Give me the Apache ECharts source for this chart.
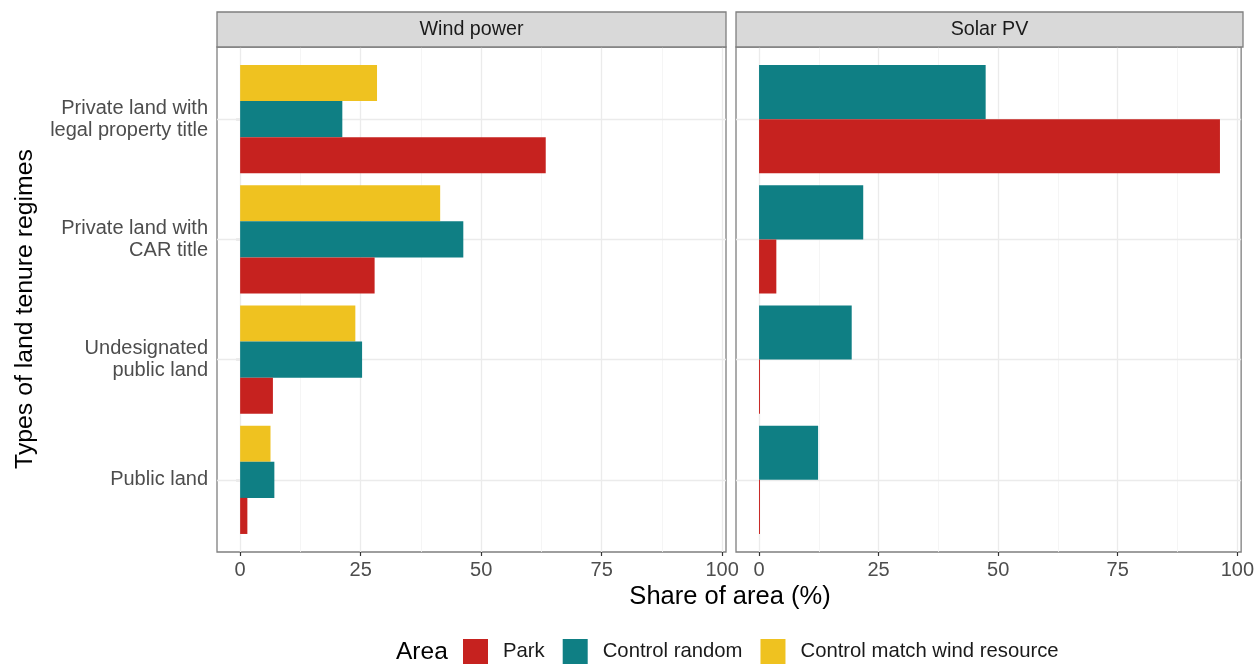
<!DOCTYPE html>
<html>
<head>
<meta charset="utf-8">
<script src="https://cdn.jsdelivr.net/npm/echarts@6/dist/echarts.min.js"></script>
<style>
  html, body { margin: 0; padding: 0; background: #ffffff; }
  #chart { width: 1257px; height: 664px; }
</style>
</head>
<body>
<div id="chart"></div>
<script>
// Land tenure categories (top to bottom)
const categories = [
  'Private land with\nlegal property title',
  'Private land with\nCAR title',
  'Undesignated\npublic land',
  'Public land'
];

// Share of area (%) — wind power parks and their controls
const windPark   = [63.4, 27.9, 6.8, 1.5];
const windRandom = [21.2, 46.3, 25.3, 7.1];
const windMatch  = [28.4, 41.5, 23.9, 6.3];

// Share of area (%) — solar PV parks and their random control
const solarPark   = [96.0, 3.6, 0.2, 0.2];
const solarRandom = [47.2, 21.7, 19.3, 12.3];

const xTicks = [0, 25, 50, 75, 100];
const xMinorTicks = [12.5, 37.5, 62.5, 87.5];

const facetNames = ['Wind power', 'Solar PV'];
const seriesNames = ['Park', 'Control random', 'Control match wind resource'];
const colors = {
  'Park': '#c6221f',
  'Control random': '#0f7f84',
  'Control match wind resource': '#efc220'
};

const FONT = 'Liberation Sans, Arial, sans-serif';
const dataMax = Math.max(...windPark, ...windRandom, ...windMatch, ...solarPark, ...solarRandom);
const xMin = -0.05 * dataMax;
const xMax = 1.05 * dataMax;

// panel geometry: the discrete axis spans 0.4 .. 4.6 category units
const panels = [
  { left: 217, width: 509 },
  { left: 736, width: 507 }
];
const panelTop = 47;
const panelHeight = 505;
const stripTop = 12;
const band = panelHeight / 4.2;
const barTop = panelTop + 0.1 * band;
const barAreaHeight = 4 * band;
const categoryPos = categories.map((c, i) => i + 1);

// frame grids (border, gridlines, x ticks) followed by bar grids (categories)
const grids = panels.map(p => ({
  left: p.left, top: panelTop, width: p.width, height: panelHeight,
  show: true, backgroundColor: '#ffffff', borderColor: '#7f7f7f', borderWidth: 1.3
})).concat(panels.map(p => ({
  left: p.left, top: barTop, width: p.width, height: barAreaHeight, show: false
})));

const xAxes = panels.map((p, i) => ({
  type: 'value', gridIndex: i, min: xMin, max: xMax,
  axisLine: { show: false },
  splitLine: { show: false },
  axisTick: { show: true, customValues: xTicks, length: 4, lineStyle: { color: '#333333', width: 1.2 } },
  axisLabel: { show: true, customValues: xTicks, fontSize: 20, color: '#4d4d4d', margin: 8, fontFamily: FONT }
})).concat(panels.map((p, i) => ({
  type: 'value', gridIndex: i + 2, min: xMin, max: xMax,
  axisLine: { show: false }, splitLine: { show: false },
  axisTick: { show: false }, axisLabel: { show: false }
})));

const yAxes = panels.map((p, i) => ({
  type: 'value', gridIndex: i, min: 0.4, max: 4.6, inverse: true,
  axisLine: { show: false }, splitLine: { show: false },
  axisTick: { show: false }, axisLabel: { show: false }
})).concat(panels.map((p, i) => ({
  type: 'category', gridIndex: i + 2, data: categories, inverse: true,
  axisLine: { show: false },
  splitLine: { show: false },
  axisTick: { show: i === 0, alignWithLabel: true, length: 4, lineStyle: { color: '#333333', width: 1.2 } },
  axisLabel: {
    show: i === 0, fontSize: 20, color: '#4d4d4d', lineHeight: 22, margin: 9,
    fontFamily: FONT, align: 'right'
  }
})));

function gridLines(axisIndex) {
  const data = [];
  xMinorTicks.forEach(v => data.push({ xAxis: v, lineStyle: { color: '#f2f2f2', width: 0.8 } }));
  xTicks.forEach(v => data.push({ xAxis: v, lineStyle: { color: '#ebebeb', width: 1.3 } }));
  categoryPos.forEach(v => data.push({ yAxis: v, lineStyle: { color: '#ebebeb', width: 1.3 } }));
  return {
    type: 'line',
    xAxisIndex: axisIndex,
    yAxisIndex: axisIndex,
    data: [],
    z: 0,
    silent: true,
    markLine: {
      z: 1,
      silent: true,
      symbol: ['none', 'none'],
      label: { show: false },
      lineStyle: { type: 'solid' },
      animation: false,
      data: data
    }
  };
}

function barSeries(name, values, axisIndex, width) {
  return {
    type: 'bar',
    name: name,
    xAxisIndex: axisIndex,
    yAxisIndex: axisIndex,
    data: values,
    barWidth: width,
    barGap: '0%',
    z: 3,
    itemStyle: { color: colors[name] }
  };
}

const series = [
  gridLines(0),
  gridLines(1),
  barSeries('Control match wind resource', windMatch, 2, 0.3 * band),
  barSeries('Control random', windRandom, 2, 0.3 * band),
  barSeries('Park', windPark, 2, 0.3 * band),
  barSeries('Control random', solarRandom, 3, 0.45 * band),
  barSeries('Park', solarPark, 3, 0.45 * band)
];

// facet strips and titles
const graphics = [];
panels.forEach((p, i) => {
  graphics.push({
    type: 'rect', z: 10,
    shape: { x: p.left, y: stripTop, width: p.width, height: panelTop - stripTop },
    style: { fill: '#d9d9d9', stroke: '#7f7f7f', lineWidth: 1.3 }
  });
  graphics.push({
    type: 'text', z: 11,
    x: p.left + p.width / 2, y: (stripTop + panelTop) / 2,
    style: { text: facetNames[i], fontSize: 19.7, fill: '#1a1a1a', fontFamily: FONT, align: 'center', verticalAlign: 'middle' }
  });
});
graphics.push({
  type: 'text', z: 11,
  x: (panels[0].left + panels[1].left + panels[1].width) / 2, y: 597,
  style: { text: 'Share of area (%)', fontSize: 25.5, fill: '#000000', fontFamily: FONT, align: 'center', verticalAlign: 'middle' }
});
graphics.push({
  type: 'text', z: 11,
  x: 25, y: 309, rotation: Math.PI / 2,
  style: { text: 'Types of land tenure regimes', fontSize: 24.8, fill: '#000000', fontFamily: FONT, align: 'center', verticalAlign: 'middle' }
});
graphics.push({
  type: 'text', z: 11,
  x: 396, y: 652,
  style: { text: 'Area', fontSize: 24.5, fill: '#000000', fontFamily: FONT, align: 'left', verticalAlign: 'middle' }
});

const chart = echarts.init(document.getElementById('chart'), null, { renderer: 'canvas' });
chart.setOption({
  animation: false,
  backgroundColor: '#ffffff',
  textStyle: { fontFamily: FONT },
  grid: grids,
  xAxis: xAxes,
  yAxis: yAxes,
  legend: {
    data: seriesNames,
    left: 463,
    top: 639,
    padding: 0,
    itemWidth: 25,
    itemHeight: 25,
    itemGap: 18,
    icon: 'rect',
    selectedMode: false,
    textStyle: { fontSize: 20.3, color: '#1a1a1a', fontFamily: FONT, padding: [0, 0, 0, 10] }
  },
  graphic: graphics,
  series: series
});
</script>
</body>
</html>
